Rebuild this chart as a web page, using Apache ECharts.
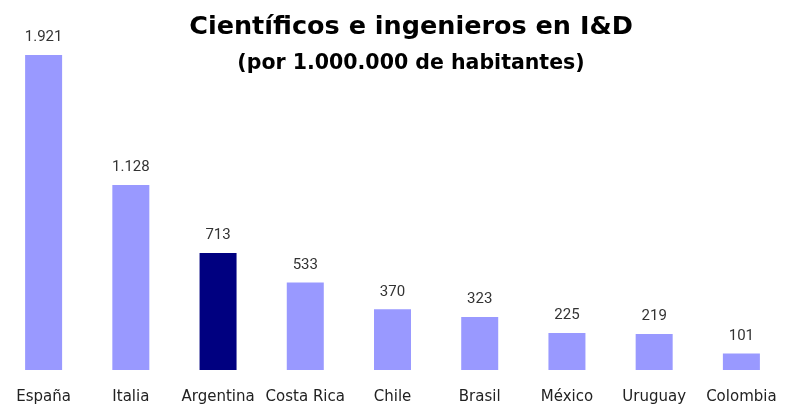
<!DOCTYPE html>
<html>
<head>
<meta charset="utf-8">
<script src="https://cdn.jsdelivr.net/npm/echarts@6/dist/echarts.min.js"></script>
<style>
html,body{margin:0;padding:0;background:#fff;}
#chart{width:785px;height:410px;}
</style>
</head>
<body>
<div id="chart"></div>
<script>
// datos del grafico
var paises = ['España', 'Italia', 'Argentina', 'Costa Rica', 'Chile', 'Brasil', 'México', 'Uruguay', 'Colombia'];
var valores = [1921, 1128, 713, 533, 370, 323, 225, 219, 101];
var destacado = 'Argentina';

function miles(v) {
  return String(v).replace(/\B(?=(\d{3})+(?!\d))/g, '.');
}

var myChart = echarts.init(document.getElementById('chart'));
myChart.setOption({
  animation: false,
  title: [{
    text: 'Científicos e ingenieros en I&D',
    left: 406, top: 9, textAlign: 'center',
    textStyle: {fontFamily: 'DejaVu Sans', fontWeight: 'bold', fontSize: 25.5, color: '#000'}
  }, {
    text: '(por 1.000.000 de habitantes)',
    left: 406, top: 48, textAlign: 'center',
    textStyle: {fontFamily: 'DejaVu Sans', fontWeight: 'bold', fontSize: 20.5, color: '#000'}
  }],
  grid: {left: -4, right: -2, top: 55, bottom: 40},
  xAxis: {
    type: 'category',
    data: paises,
    axisLine: {show: false},
    axisTick: {show: false},
    axisLabel: {interval: 0, margin: 20, fontFamily: 'DejaVu Sans', fontSize: 15, color: '#222'}
  },
  yAxis: {
    type: 'value', min: 0, max: 1921,
    show: false,
    splitLine: {show: false}
  },
  series: [{
    type: 'bar',
    barWidth: 37,
    data: valores.map(function (v, i) {
      return {value: v, itemStyle: {color: paises[i] === destacado ? '#000080' : '#9999FF'}};
    }),
    label: {
      show: true, position: 'top', distance: 10,
      fontFamily: 'Roboto', fontSize: 15, color: '#333',
      formatter: function (p) { return miles(p.value); }
    }
  }]
});
</script>
</body>
</html>
